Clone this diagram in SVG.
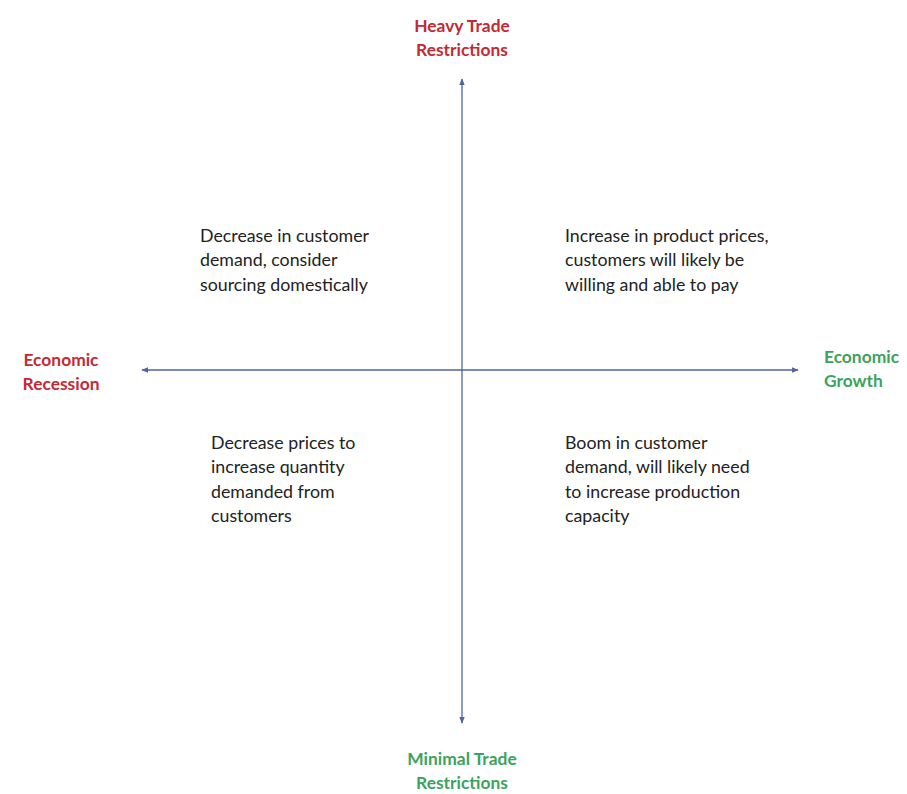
<svg xmlns="http://www.w3.org/2000/svg" width="907" height="794" viewBox="0 0 907 794">
<style>
.q{font-family:Lato,"Open Sans","Liberation Sans",sans-serif;font-size:17.8px;fill:#222}
.r{font-family:Lato,"Open Sans","Liberation Sans",sans-serif;font-size:17.4px;font-weight:bold;fill:#c22a36}
.g{font-family:Lato,"Open Sans","Liberation Sans",sans-serif;font-size:17.4px;font-weight:bold;fill:#3ca35c}
.ax{stroke:#4f64a0;stroke-width:1.3;fill:none}
</style>
<defs>
<marker id="ah" viewBox="0 0 10 10" refX="9" refY="5" markerWidth="7" markerHeight="7" orient="auto-start-reverse" markerUnits="userSpaceOnUse">
<path d="M0,1 L10,5 L0,9 z" fill="#4f64a0"/>
</marker>
</defs>
<rect width="907" height="794" fill="#fff"/>
<g id="connectors">
<line class="ax" x1="462" y1="79" x2="462" y2="723" marker-start="url(#ah)" marker-end="url(#ah)"/>
<line class="ax" x1="142" y1="370" x2="798" y2="370" marker-start="url(#ah)" marker-end="url(#ah)"/>
</g>
<g id="heavy">
<text class="r" x="462" y="32" text-anchor="middle">Heavy Trade</text>
<text class="r" x="462" y="56" text-anchor="middle">Restrictions</text>
</g>
<g id="minimal">
<text class="g" x="462" y="765" text-anchor="middle">Minimal Trade</text>
<text class="g" x="462" y="789" text-anchor="middle">Restrictions</text>
</g>
<g id="recession">
<text class="r" x="61" y="366" text-anchor="middle">Economic</text>
<text class="r" x="61" y="390" text-anchor="middle">Recession</text>
</g>
<g id="growth">
<text class="g" x="824" y="363">Economic</text>
<text class="g" x="824" y="387">Growth</text>
</g>
<g id="q-top-left">
<text class="q" x="200" y="242">Decrease in customer</text>
<text class="q" x="200" y="266">demand, consider</text>
<text class="q" x="200" y="291">sourcing domestically</text>
</g>
<g id="q-top-right">
<text class="q" x="565" y="242">Increase in product prices,</text>
<text class="q" x="565" y="266">customers will likely be</text>
<text class="q" x="565" y="291">willing and able to pay</text>
</g>
<g id="q-bottom-left">
<text class="q" x="211" y="449">Decrease prices to</text>
<text class="q" x="211" y="473">increase quantity</text>
<text class="q" x="211" y="498">demanded from</text>
<text class="q" x="211" y="522">customers</text>
</g>
<g id="q-bottom-right">
<text class="q" x="565" y="449">Boom in customer</text>
<text class="q" x="565" y="473">demand, will likely need</text>
<text class="q" x="565" y="498">to increase production</text>
<text class="q" x="565" y="522">capacity</text>
</g>
</svg>
